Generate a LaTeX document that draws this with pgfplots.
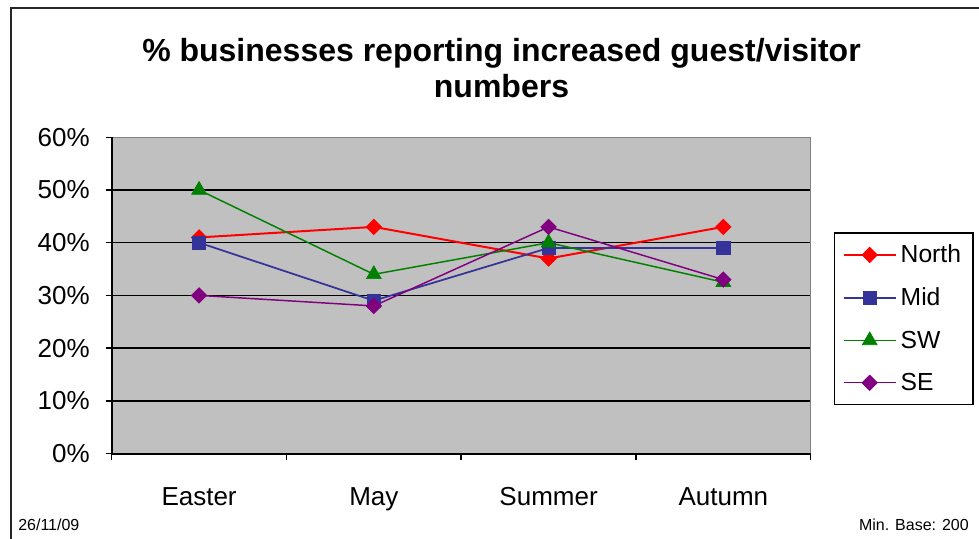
\documentclass[border=0pt]{standalone}
\usepackage{fontspec}
\setmainfont{Liberation Sans}
\usepackage{pgfplots}
\pgfplotsset{compat=1.18}

\definecolor{plotgray}{HTML}{C0C0C0}
\definecolor{bordergray}{HTML}{808080}
\definecolor{northred}{HTML}{FF0000}
\definecolor{midblue}{HTML}{333399}
\definecolor{swgreen}{HTML}{008000}
\definecolor{sepurple}{HTML}{800080}

\begin{document}
\begin{tikzpicture}[x=0.75pt,y=-0.75pt]
\useasboundingbox (0,0) rectangle (979,539);
% outer chart frame (left and top edges)
\draw[line width=1.5pt, black!85] (10.5,560) -- (10.5,8) -- (990,8);

% title
\node[anchor=base, inner sep=0pt, font=\fontsize{24}{28}\selectfont\bfseries]
  at (501.5,61) {\% businesses reporting increased guest/visitor};
\node[anchor=base, inner sep=0pt, font=\fontsize{24}{28}\selectfont\bfseries]
  at (501.5,97) {numbers};

% footer
\node[anchor=base west, inner sep=0pt, font=\fontsize{12}{14}\selectfont]
  at (18,530.5) {26/11/09};
\node[anchor=base east, inner sep=0pt, font=\fontsize{12}{14}\selectfont]
  at (969,530.5) {Min. Base: 200};

\begin{axis}[
  at={(83.775pt,-340.125pt)}, anchor=south west,
  scale only axis, width=524.25pt, height=237.15pt,
  xmin=-0.5, xmax=3.5, ymin=0, ymax=60,
  axis background/.style={fill=plotgray},
  axis line style={draw=none},
  xtick={-0.5,0.5,1.5,2.5,3.5},
  x tick label as interval,
  xticklabels={Easter,May,Summer,Autumn},
  ytick={0,10,...,60},
  yticklabel={\pgfmathprintnumber{\tick}\%},
  ymajorgrids,
  major grid style={black, line width=1.1pt},
  xtick pos=left, ytick pos=left,
  tick align=outside, major tick length=4.5pt,
  every tick/.style={black, line width=1.1pt},
  tick label style={font=\fontsize{19.5}{23}\selectfont},
  /pgf/number format/assume math mode=true,
  xticklabel shift=17.6pt,
  yticklabel shift=8.5pt,
  clip=false,
  legend cell align=left,
  legend style={
    at={(axis description cs:1,1)}, anchor=north west,
    xshift=17.5pt, yshift=-71.25pt,
    draw=black, line width=1pt, fill=white,
    font=\fontsize{18.5}{22}\selectfont,
    inner xsep=6pt, inner ysep=6pt, row sep=11.3pt,
    nodes={inner sep=3pt},
  },
  legend image code/.code={
    \draw[mark repeat=2, mark phase=2]
      plot coordinates {(0pt,0pt) (19.5pt,0pt) (39pt,0pt)};
  },
]
% plot area border: grey top/right, black left/bottom
\draw[bordergray, line width=1.1pt] (rel axis cs:0,1) -- (rel axis cs:1,1) -- (rel axis cs:1,0);
\draw[black, line width=1.5pt] (rel axis cs:0,1) -- (rel axis cs:0,0) -- (rel axis cs:1,0);

\addplot[northred, line width=1.5pt, mark=square*, mark size=4.1pt,
  mark options={solid, rotate=45, line width=0.5pt}]
  coordinates {(0,41) (1,43) (2,37) (3,43)};
\addlegendentry{North}

\addplot[midblue, line width=1.3pt, mark=square*, mark size=4.9pt,
  mark options={solid, line width=0.5pt}]
  coordinates {(0,40) (1,29) (2,39) (3,39)};
\addlegendentry{Mid}

\addplot[swgreen, line width=1.1pt, mark=triangle*, mark size=6.4pt,
  mark options={solid, line width=0.5pt}]
  coordinates {(0,50) (1,34) (2,40) (3,32.5)};
\addlegendentry{SW}

\addplot[sepurple, line width=1.1pt, mark=square*, mark size=4.1pt,
  mark options={solid, rotate=45, line width=0.5pt}]
  coordinates {(0,30) (1,28) (2,43) (3,33)};
\addlegendentry{SE}
\end{axis}
\end{tikzpicture}
\end{document}
